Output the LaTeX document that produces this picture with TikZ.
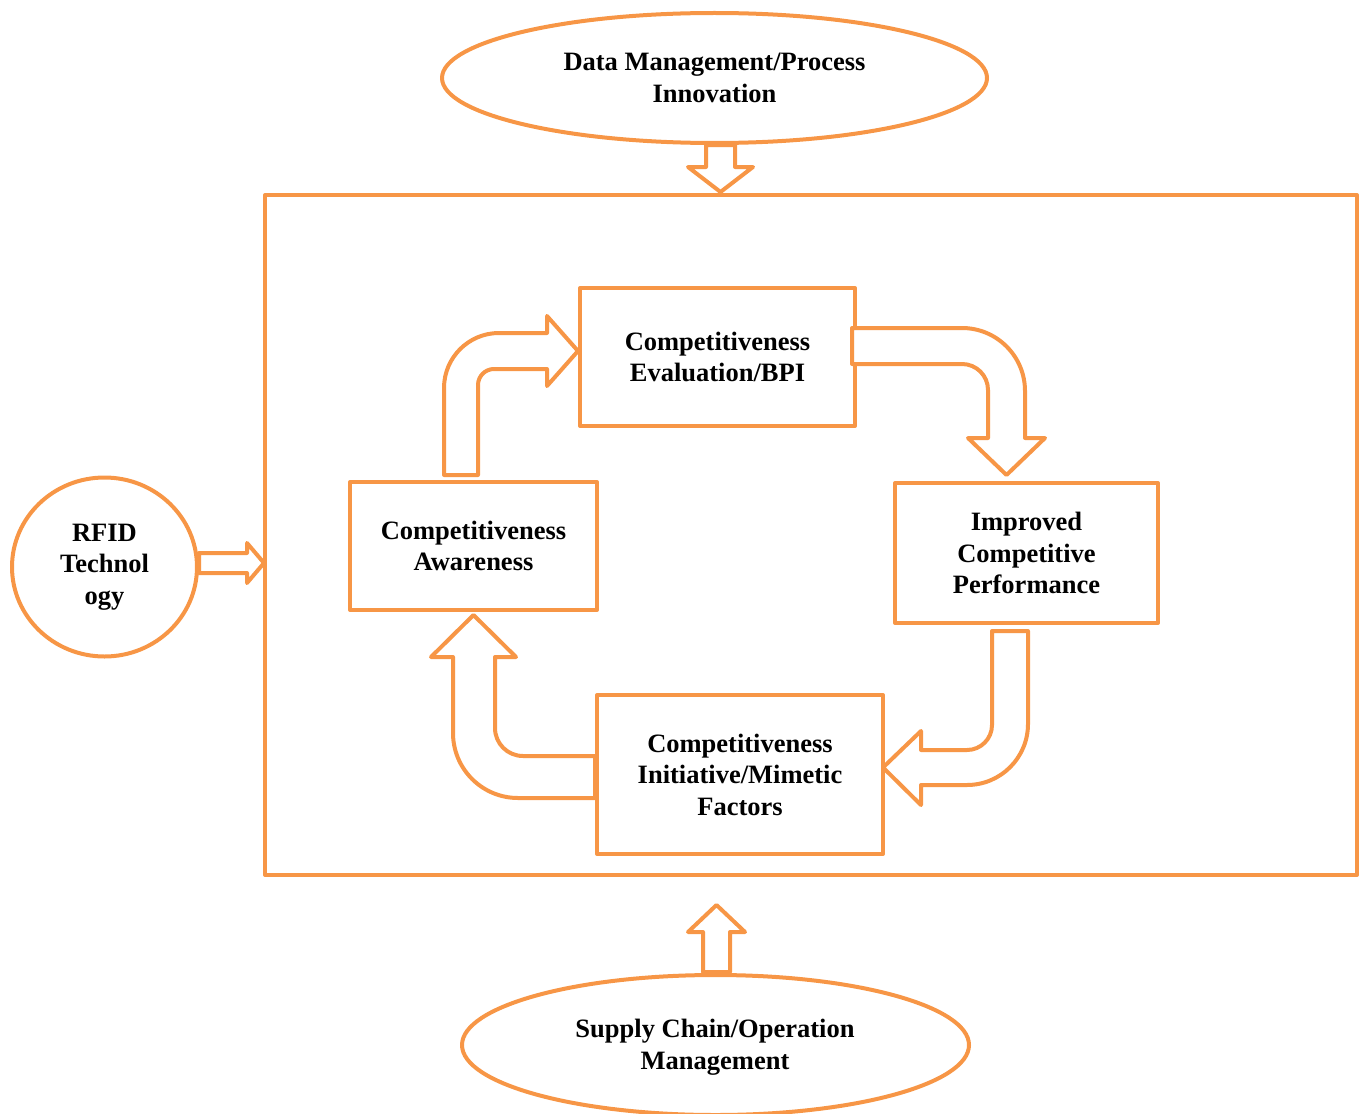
\documentclass[tikz,border=0pt]{standalone}
\usepackage{fontspec}
\setmainfont{Liberation Serif}
\usetikzlibrary{shapes.geometric}
\definecolor{orng}{HTML}{F79646}
\begin{document}
\begin{tikzpicture}[x=1pt,y=-1pt,
  every node/.style={font=\bfseries\fontsize{26.5}{31.5}\selectfont, align=center, inner sep=0pt},
  ln/.style={draw=orng, line width=4pt, line join=round},
  boxn/.style={ln, rectangle},
  ell/.style={ln, ellipse},
  blockarrow/.style={ln, fill=white}]
\useasboundingbox (0,0) rectangle (1359,1113);
% frame
\node[boxn, minimum width=1092pt, minimum height=680pt] (frame) at (811,535) {};
% outer nodes
\node[ell, minimum width=545pt, minimum height=130pt] (dm) at (714.5,78) {Data Management/Process\\Innovation};
\node[ell, minimum width=507pt, minimum height=140pt] (sc) at (715.5,1045) {};
\node (sctext) at (715,1047) {Supply Chain/Operation\\Management};
\node[ell, minimum width=185pt, minimum height=179pt] (rfid) at (104.5,567) {RFID\\Technol\\ogy};
% inner boxes
\node[boxn, minimum width=275pt, minimum height=138pt] (ce) at (717.5,357) {Competitiveness\\Evaluation/BPI};
\node[boxn, minimum width=247pt, minimum height=128pt] (ca) at (473.5,546) {Competitiveness\\Awareness};
\node[boxn, minimum width=263pt, minimum height=140pt] (icp) at (1026.5,553) {Improved\\Competitive\\Performance};
\node[boxn, minimum width=286pt, minimum height=159pt] (ci) at (740,774.5) {Competitiveness\\Initiative/Mimetic\\Factors};
% straight block arrows
\draw[blockarrow] (706,145) -- (735,145) -- (735,167) -- (753,167) -- (720.5,192) -- (688,167) -- (706,167) -- cycle;
\draw[blockarrow] (703,972) -- (730,972) -- (730,932) -- (745,932) -- (716.5,905) -- (688,932) -- (703,932) -- cycle;
\draw[blockarrow] (199,553) -- (247,553) -- (247,543) -- (264,563) -- (247,583) -- (247,573) -- (199,573) -- cycle;
% curved arrow: awareness -> evaluation
\draw[blockarrow] (444,475) -- (444,388) .. controls (444,357.6) and (468.6,333) .. (499,333)
  -- (547,333) -- (547,316) -- (578,351) -- (547,386) -- (547,369) -- (494,369)
  .. controls (485.2,369) and (478,376.2) .. (478,385) -- (478,475) -- cycle;
% curved arrow: evaluation -> improved
\draw[blockarrow] (852,328) -- (962,328) .. controls (996.8,328) and (1025,356.2) .. (1025,391)
  -- (1025,438) -- (1045,438) -- (1006.5,475) -- (968,438) -- (988,438) -- (988,390)
  .. controls (988,375.6) and (976.4,364) .. (962,364) -- (852,364) -- cycle;
% curved arrow: improved -> initiative
\draw[blockarrow] (992,631) -- (1028,631) -- (1028,724) .. controls (1028,757.7) and (1000.7,785) .. (967,785)
  -- (921,785) -- (921,805) -- (883,767.5) -- (921,731) -- (921,750) -- (967,750)
  .. controls (980.8,750) and (992,738.8) .. (992,725) -- cycle;
% curved arrow: initiative -> awareness
\draw[blockarrow] (595,756) -- (523,756) .. controls (507.5,756) and (495,743.5) .. (495,728)
  -- (495,657) -- (516,657) -- (473.5,615) -- (431,657) -- (453,657) -- (453,733)
  .. controls (453,768.9) and (482.1,798) .. (518,798) -- (595,798) -- cycle;
\end{tikzpicture}
\end{document}
